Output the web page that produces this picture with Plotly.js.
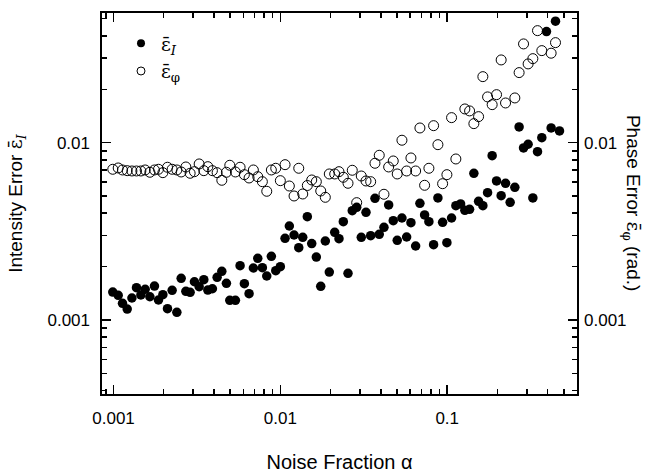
<!DOCTYPE html>
<html>
<head>
<meta charset="utf-8">
<script src="https://cdn.plot.ly/plotly-3.0.1.min.js"></script>
<style>html,body{margin:0;padding:0;background:#fff;}#chart{width:653px;height:473px;}</style>
</head>
<body>
<div id="chart"></div>
<script>
// Noise fraction values for intensity error series (filled circles)
const noiseI = [0.00099,0.001067,0.001132,0.001208,0.001289,0.001373,0.001459,0.001548,0.001652,0.00176,
0.00186,0.001976,0.002106,0.002246,0.002397,0.002544,0.002714,0.002879,0.003055,0.003261,
0.003478,0.003675,0.003915,0.004178,0.004458,0.00475,0.004977,0.005377,0.005737,0.006087,
0.006494,0.006891,0.007322,0.007801,0.008289,0.008833,0.009386,0.01,0.01067,0.01132,
0.01208,0.01289,0.01362,0.01451,0.01542,0.01643,0.01746,0.0186,0.01965,0.02117,
0.02246,0.02384,0.02544,0.02698,0.02868,0.03055,0.03261,0.03478,0.03691,0.03915,
0.04178,0.04458,0.0475,0.05018,0.05355,0.05714,0.06062,0.06469,0.06863,0.07322,
0.07769,0.08289,0.08797,0.09386,0.09959,0.1062,0.1127,0.1203,0.1276,0.1362,
0.1445,0.1542,0.1636,0.1746,0.186,0.1976,0.2106,0.2237,0.2384,0.2544,
0.2698,0.2868,0.3055,0.3261,0.3478,0.3691,0.3937,0.4197,0.4458,0.4711];
// Intensity error values
const errI = [0.001438,0.001378,0.001242,0.001153,0.001331,0.001521,0.001384,0.00149,0.001353,0.001555,
0.001297,0.001389,0.001158,0.00147,0.001105,0.001718,0.001451,0.001432,0.001644,0.001541,
0.001688,0.001476,0.001501,0.001741,0.001882,0.00161,0.001291,0.001291,0.002025,0.001602,
0.001407,0.001965,0.002228,0.001972,0.001771,0.002287,0.001897,0.001998,0.002889,0.00339,
0.003016,0.002557,0.002927,0.003825,0.0027,0.002266,0.001549,0.00279,0.001865,0.003124,
0.002874,0.003584,0.001834,0.004135,0.004322,0.002927,0.00405,0.002988,0.004858,0.003043,
0.003333,0.004453,0.003631,0.002815,0.003761,0.002938,0.003538,0.002615,0.004553,0.003911,
0.003584,0.002659,0.004877,0.003556,0.002729,0.003761,0.004413,0.004512,0.004157,0.004212,
0.006721,0.004673,0.004413,0.005224,0.008445,0.006081,0.005025,0.005902,0.004612,0.005604,
0.01226,0.009335,0.009795,0.004877,0.008897,0.01067,0.04228,0.0121,0.04839,0.01164];
// Noise fraction values for phase error series (open circles)
const noisePhi = [0.00099,0.001067,0.001132,0.001208,0.001289,0.001373,0.001459,0.001548,0.001652,0.00176,
0.00186,0.001976,0.002106,0.002246,0.002397,0.002544,0.002714,0.002879,0.003055,0.003261,
0.003478,0.003675,0.003915,0.004178,0.004458,0.00475,0.004977,0.005377,0.005737,0.006087,
0.006494,0.006891,0.007322,0.007801,0.008289,0.008833,0.009386,0.01,0.01067,0.01132,
0.01208,0.01289,0.01362,0.01451,0.01542,0.01643,0.01746,0.0186,0.01965,0.02117,
0.02246,0.02384,0.02544,0.02698,0.02868,0.03055,0.03261,0.03478,0.03691,0.03915,
0.04178,0.04458,0.0475,0.05018,0.05355,0.05714,0.06062,0.06469,0.06863,0.07322,
0.07769,0.08289,0.08797,0.09386,0.09959,0.1062,0.1127,0.1276,0.1362,0.1445,
0.1542,0.1636,0.1746,0.186,0.1976,0.2106,0.2237,0.2544,0.2698,0.2868,
0.3055,0.3261,0.3478,0.3691,0.4197,0.4458];
// Phase error values (rad.)
const errPhi = [0.007079,0.0072,0.007015,0.006952,0.006925,0.006925,0.006925,0.007015,0.006809,0.007015,
0.007079,0.006774,0.007266,0.007079,0.007015,0.006835,0.007294,0.006721,0.006861,0.007585,
0.006952,0.007322,0.006952,0.006774,0.006136,0.006809,0.007456,0.006835,0.007266,0.0066,
0.006322,0.007015,0.006429,0.006026,0.00532,0.007015,0.007172,0.006105,0.007515,0.005697,
0.005005,0.007172,0.005136,0.005734,0.00616,0.006026,0.005341,0.00492,0.006661,0.006661,
0.006861,0.00638,0.005902,0.006988,0.004589,0.006488,0.006081,0.006026,0.007653,0.008489,
0.005117,0.007294,0.007885,0.006661,0.01032,0.006925,0.008199,0.006925,0.0121,0.00575,
0.007172,0.01247,0.009743,0.005871,0.0066,0.01384,0.008092,0.01549,0.0151,0.0128,
0.01402,0.02356,0.01811,0.01638,0.01865,0.02927,0.01674,0.01787,0.02483,0.03603,
0.0278,0.02976,0.04281,0.03303,0.03194,0.03664];

const xMajor = [0.001, 0.01, 0.1];
const xMajorText = ['0.001', '0.01', '0.1'];
const xMinor = [0.0009,0.002,0.003,0.004,0.005,0.006,0.007,0.008,0.009,
  0.02,0.03,0.04,0.05,0.06,0.07,0.08,0.09,0.2,0.3,0.4,0.5];
const yMajor = [0.001, 0.01];
const yMajorText = ['0.001', '0.01'];
const yMinor = [0.0004,0.0005,0.0006,0.0007,0.0008,0.0009,
  0.002,0.003,0.004,0.005,0.006,0.007,0.008,0.009,0.02,0.03,0.04,0.05];

const FONT = 'Liberation Sans, Arial, Helvetica, sans-serif';
const SERIF = 'DejaVu Serif';
const epsI = '<span style="font-family:' + SERIF + '">ε̄<sub><i>I</i></sub></span>';
const epsPhi = '<span style="font-family:' + SERIF + '">ε̄<sub>φ</sub></span>';

const XR = [-3.069, -0.222];
const YR = [-3.417, -1.269];

const traces = [
  {x: noiseI, y: errI, type: 'scatter', mode: 'markers', showlegend: false,
   xaxis: 'x', yaxis: 'y', hoverinfo: 'skip',
   marker: {symbol: 'circle', size: 9.5, color: '#000'}},
  {x: noisePhi, y: errPhi, type: 'scatter', mode: 'markers', showlegend: false,
   xaxis: 'x', yaxis: 'y2', hoverinfo: 'skip',
   marker: {symbol: 'circle-open', size: 10, color: '#000', line: {width: 1, color: '#000'}}},
  {x: [null], y: [null], type: 'scatter', mode: 'markers', name: epsI,
   marker: {symbol: 'circle', size: 8, color: '#000'}},
  {x: [null], y: [null], type: 'scatter', mode: 'markers', name: epsPhi,
   marker: {symbol: 'circle-open', size: 8, color: '#000', line: {width: 1, color: '#000'}}}
];

const common = {
  type: 'log', showgrid: false, zeroline: false, showline: true,
  linecolor: '#000', linewidth: 1.6,
  ticks: 'inside', ticklen: 9, tickwidth: 1.6, tickcolor: '#000',
  tickmode: 'array',
  tickfont: {family: FONT, size: 17, color: '#000'},
  automargin: false
};
const minorTicks = (vals) => ({tickmode: 'array', tickvals: vals, ticks: 'inside',
  ticklen: 5, tickwidth: 1.5, tickcolor: '#000', showgrid: false});

const layout = {
  width: 653, height: 473,
  margin: {l: 102, r: 76, t: 13, b: 79, pad: 0},
  paper_bgcolor: '#fff', plot_bgcolor: 'rgba(0,0,0,0)',
  font: {family: FONT, color: '#000'},
  showlegend: true,
  legend: {x: 0.04, y: 0.97, xanchor: 'left', yanchor: 'top',
    bgcolor: 'rgba(0,0,0,0)', font: {family: FONT, size: 19, color: '#000'},
    tracegroupgap: 0, itemwidth: 30},
  xaxis: Object.assign({}, common, {
    range: XR, mirror: 'ticks',
    tickvals: xMajor, ticktext: xMajorText, ticklabelstandoff: 8,
    minor: minorTicks(xMinor),
    title: {text: 'Noise Fraction α', font: {family: FONT, size: 20, color: '#000'}, standoff: 32}
  }),
  yaxis: Object.assign({}, common, {
    range: YR, mirror: 'ticks',
    tickvals: yMajor, ticktext: yMajorText, ticklabelstandoff: 7,
    minor: minorTicks(yMinor),
    title: {text: 'Intensity Error ' + epsI, font: {family: FONT, size: 19, color: '#000'}, standoff: 20}
  }),
  yaxis2: Object.assign({}, common, {
    range: YR, overlaying: 'y', side: 'right', anchor: 'x',
    showline: false, ticks: '', ticklabelstandoff: 6,
    tickvals: yMajor, ticktext: yMajorText
  }),
  annotations: [{
    text: 'Phase Error ' + epsPhi + ' (rad.)', textangle: 90,
    xref: 'paper', yref: 'paper', x: 1.117, y: 0.5,
    xanchor: 'center', yanchor: 'middle', showarrow: false,
    font: {family: FONT, size: 19, color: '#000'}
  }]
};

Plotly.newPlot('chart', traces, layout, {displayModeBar: false, staticPlot: true});
</script>
</body>
</html>
